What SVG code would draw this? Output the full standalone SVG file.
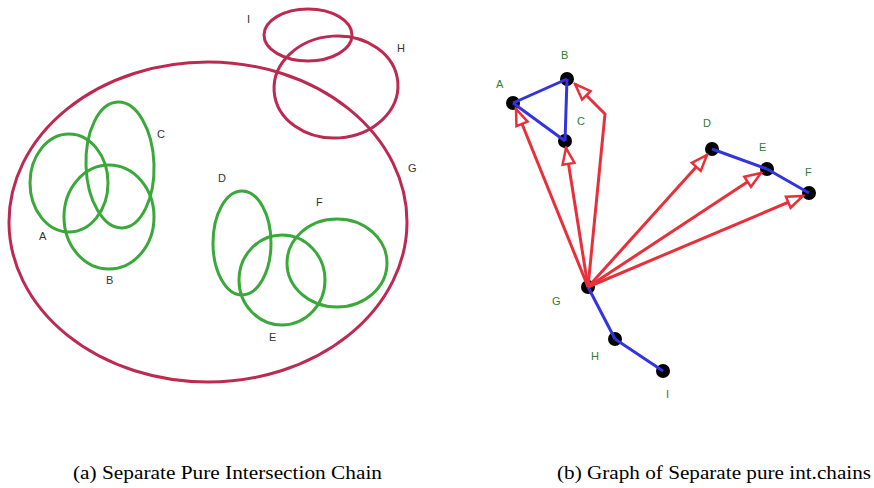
<svg xmlns="http://www.w3.org/2000/svg" width="874" height="488" viewBox="0 0 874 488">
<style>
.red{fill:none;stroke:#bc2a52;stroke-width:3}
.grn{fill:none;stroke:#3aa83a;stroke-width:3}
.lbl{font-family:"Liberation Sans",Arial,sans-serif;font-size:11px;fill:#333}
.glbl{font-family:"Liberation Sans",Arial,sans-serif;font-size:11px;fill:#2e7d32}
.node{fill:#000}
.blue{stroke:#3333e0;stroke-width:3;fill:none}
.arr{stroke:#e8303a;stroke-width:3;fill:none;marker-end:url(#ah)}
.cap{font-family:"Liberation Serif","Times New Roman",serif;font-size:19px;fill:#000}
</style>
<defs>
<marker id="ah" markerUnits="userSpaceOnUse" markerWidth="20" markerHeight="16" viewBox="0 0 20 16" refX="18" refY="8" orient="auto">
<path d="M2,2 L18,8 L2,14 Z" fill="#fff" stroke="#e8303a" stroke-width="2.5" stroke-linejoin="miter"/>
</marker>
</defs>
<rect width="874" height="488" fill="#fff"/>
<g id="G-set"><ellipse class="red" cx="208" cy="222" rx="199" ry="160"/><text class="lbl" x="408" y="172">G</text></g>
<g id="I-set"><ellipse class="red" cx="308" cy="35" rx="44" ry="26"/><text class="lbl" x="247" y="23">I</text></g>
<g id="H-set"><ellipse class="red" cx="336" cy="87" rx="62" ry="51" transform="rotate(-4 336 87)"/><text class="lbl" x="397" y="52">H</text></g>
<g id="A-set"><ellipse class="grn" cx="69" cy="183" rx="39" ry="49"/><text class="lbl" x="39" y="240">A</text></g>
<g id="C-set"><ellipse class="grn" cx="120" cy="165" rx="34" ry="63" transform="rotate(-2 120 165)"/><text class="lbl" x="157" y="138">C</text></g>
<g id="B-set"><ellipse class="grn" cx="109" cy="217" rx="45" ry="52"/><text class="lbl" x="106" y="284">B</text></g>
<g id="D-set"><ellipse class="grn" cx="242" cy="243" rx="29" ry="52"/><text class="lbl" x="218" y="182">D</text></g>
<g id="E-set"><ellipse class="grn" cx="282" cy="280" rx="43" ry="45"/><text class="lbl" x="269" y="341">E</text></g>
<g id="F-set"><ellipse class="grn" cx="337" cy="263" rx="50" ry="44"/><text class="lbl" x="316" y="206">F</text></g>
<g id="nA"><circle class="node" cx="513" cy="103" r="7"/><text class="glbl" x="496" y="88">A</text></g>
<g id="nB"><circle class="node" cx="567" cy="79" r="7"/><text class="glbl" x="561" y="59">B</text></g>
<g id="nC"><circle class="node" cx="565" cy="141" r="7"/><text class="glbl" x="577" y="125">C</text></g>
<g id="nD"><circle class="node" cx="712" cy="149" r="7"/><text class="glbl" x="703" y="127">D</text></g>
<g id="nE"><circle class="node" cx="767" cy="169" r="7"/><text class="glbl" x="759" y="151">E</text></g>
<g id="nF"><circle class="node" cx="809" cy="193" r="7"/><text class="glbl" x="805" y="176">F</text></g>
<g id="nG"><circle class="node" cx="588" cy="287" r="7"/><text class="glbl" x="552" y="305">G</text></g>
<g id="nH"><circle class="node" cx="615" cy="339" r="7"/><text class="glbl" x="591" y="360">H</text></g>
<g id="nI"><circle class="node" cx="663" cy="371" r="7"/><text class="glbl" x="666" y="398">I</text></g>
<g id="connectors">
<line class="blue" x1="513" y1="103" x2="567" y2="79"/>
<line class="blue" x1="513" y1="103" x2="565" y2="141"/>
<line class="blue" x1="567" y1="79" x2="565" y2="141"/>
<line class="blue" x1="712" y1="149" x2="767" y2="169"/>
<line class="blue" x1="767" y1="169" x2="809" y2="193"/>
<line class="blue" x1="588" y1="287" x2="615" y2="339"/>
<line class="blue" x1="615" y1="339" x2="663" y2="371"/>
<line class="arr" x1="588" y1="287" x2="516" y2="109"/>
<line class="arr" x1="588" y1="287" x2="566" y2="148"/>
<polyline class="arr" points="588,287 605,114 575,84"/>
<line class="arr" x1="588" y1="287" x2="707" y2="155"/>
<line class="arr" x1="588" y1="287" x2="761" y2="173"/>
<line class="arr" x1="588" y1="287" x2="803" y2="196"/>
</g>
<text class="cap" x="73" y="479" textLength="309" lengthAdjust="spacingAndGlyphs">(a)  Separate Pure Intersection Chain</text>
<text class="cap" x="557" y="479" textLength="314" lengthAdjust="spacingAndGlyphs">(b)  Graph of Separate pure int.chains</text>
</svg>
